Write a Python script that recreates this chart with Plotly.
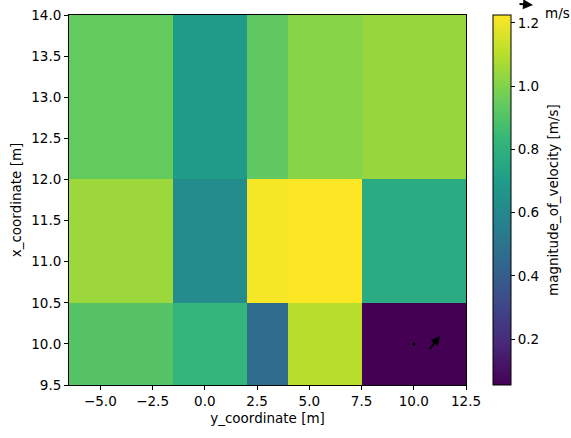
import plotly.graph_objects as go

# cell centres (matplotlib-style pcolormesh with nearest shading)
y_coord = [-4.0, 1.0, 3.0, 5.0, 10.0]      # horizontal axis
x_coord = [10.0, 11.0, 13.0]              # vertical axis
magnitude = [
    [0.91, 0.83, 0.465, 1.10, 0.055],
    [1.05, 0.62, 1.21, 1.225, 0.77],
    [0.94, 0.69, 0.93, 1.01, 1.04],
]
zmin, zmax = 0.055, 1.225

# quiver points
q_tail_y = [10.0, 10.72]
q_tail_x = [10.0, 9.92]
q_head_y = [10.0, 11.25]
q_head_x = [10.0, 10.095]

x_ticks = [-5.0, -2.5, 0.0, 2.5, 5.0, 7.5, 10.0, 12.5]
y_ticks = [9.5, 10.0, 10.5, 11.0, 11.5, 12.0, 12.5, 13.0, 13.5, 14.0]
cb_ticks = [0.2, 0.4, 0.6, 0.8, 1.0, 1.2]

FONT = "DejaVu Sans"
FS = 13.5
L, R, T, B = 69, 466, 15, 385
PW, PH = R - L, B - T

fig = go.Figure()
fig.add_trace(go.Heatmap(
    x=y_coord, y=x_coord, z=magnitude,
    colorscale="Viridis", zmin=zmin, zmax=zmax,
    colorbar=dict(
        x=(493 - L) / PW, xanchor="left", xref="paper", xpad=0, ypad=0,
        y=0.5, yanchor="middle", len=1.0, lenmode="fraction",
        thickness=18, thicknessmode="pixels",
        outlinewidth=1, outlinecolor="black",
        ticks="outside", ticklen=4, tickwidth=1, tickcolor="black",
        tickvals=cb_ticks, ticktext=[f"{v:.1f}" for v in cb_ticks],
        tickfont=dict(family=FONT, size=FS, color="black"),
    ),
    hoverinfo="skip",
))

# colorbar label
fig.add_annotation(
    xref="paper", yref="paper", x=(553 - L) / PW, y=0.5,
    text="magnitude_of_velocity [m/s]", textangle=-90, showarrow=False,
    xanchor="center", yanchor="middle",
    font=dict(family=FONT, size=FS, color="black"))

# zero-length quiver point drawn as a dot
fig.add_trace(go.Scatter(
    x=[q_tail_y[0]], y=[q_tail_x[0]], mode="markers",
    marker=dict(color="black", size=3), showlegend=False, hoverinfo="skip"))

# quiver arrow
for i in range(1, len(q_tail_y)):
    fig.add_annotation(
        x=q_head_y[i], y=q_head_x[i], ax=q_tail_y[i], ay=q_tail_x[i],
        xref="x", yref="y", axref="x", ayref="y",
        showarrow=True, arrowhead=2, arrowsize=0.9, arrowwidth=2,
        arrowcolor="black", text="")

# quiver key
fig.add_annotation(
    xref="paper", yref="paper", x=(533 - L) / PW, y=(B - 5) / PH,
    ax=-15, ay=-1, axref="pixel", ayref="pixel",
    showarrow=True, arrowhead=2, arrowsize=1.0, arrowwidth=2,
    arrowcolor="black", text="")
fig.add_annotation(
    xref="paper", yref="paper", x=(543 - L) / PW, y=(B - 4) / PH,
    text="0.01<br>m/s", showarrow=False, xanchor="left", yanchor="middle",
    align="left", font=dict(family=FONT, size=FS, color="black"))

axis_common = dict(
    showgrid=False, zeroline=False, showline=True, linecolor="black",
    linewidth=1, mirror=True, ticks="outside", ticklen=4, tickwidth=1,
    tickcolor="black", tickfont=dict(family=FONT, size=FS, color="black"),
)
fig.update_xaxes(range=[-6.5, 12.5], tickvals=x_ticks,
                 ticktext=[f"{v:.1f}".replace("-", "\u2212") for v in x_ticks],
                 title=dict(text="y_coordinate [m]", standoff=5,
                            font=dict(family=FONT, size=FS, color="black")),
                 **axis_common)
fig.update_yaxes(range=[9.5, 14.0], tickvals=y_ticks,
                 ticktext=[f"{v:.1f}" for v in y_ticks],
                 title=dict(text="x_coordinate [m]", standoff=6,
                            font=dict(family=FONT, size=FS, color="black")),
                 **axis_common)

fig.update_layout(
    width=571, height=438,
    margin=dict(l=L, r=571 - R, t=T, b=438 - B, autoexpand=False),
    paper_bgcolor="white", plot_bgcolor="white",
    showlegend=False,
    font=dict(family=FONT, size=FS, color="black"),
)

fig.write_html("out.html")
